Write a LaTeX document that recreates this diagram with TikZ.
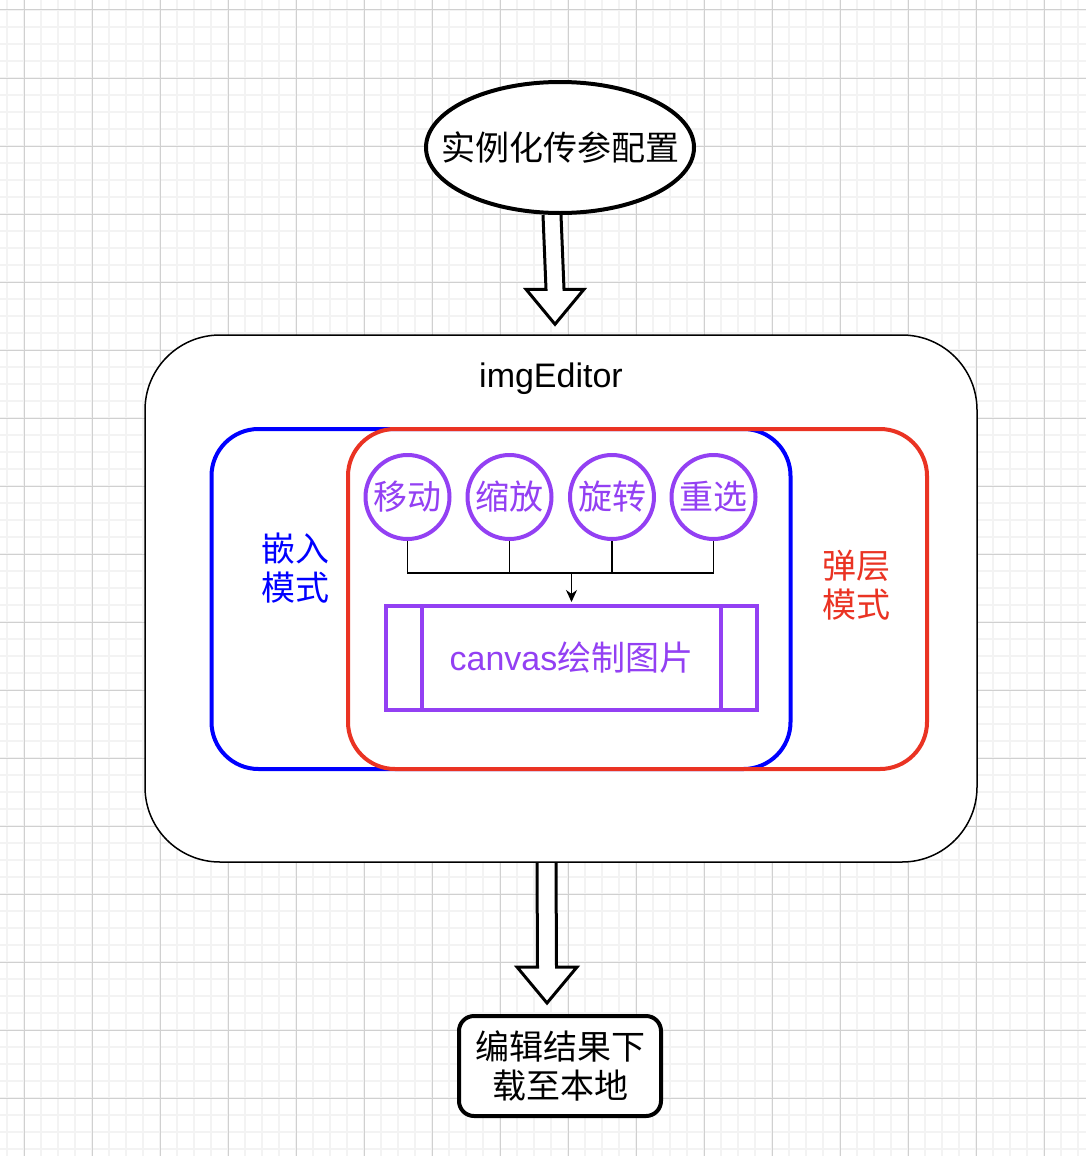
\documentclass[tikz,border=0pt]{standalone}
\usepackage{fontspec}
\setmainfont{Liberation Sans}
\newfontfamily\cjk{Noto Sans CJK SC}
\usetikzlibrary{shapes.geometric,arrows.meta,calc}
\pgfdeclarelayer{bg}
\pgfsetlayers{bg,main}

\definecolor{gridmajor}{RGB}{208,208,208}
\definecolor{gridminor}{RGB}{243,243,243}
\definecolor{modeblue}{RGB}{0,0,255}
\definecolor{modered}{RGB}{234,51,35}
\definecolor{oppurple}{RGB}{147,64,243}

\tikzset{
  txt/.style={font=\cjk\fontsize{34}{39}\selectfont,align=center,inner sep=0pt},
  startell/.style={ellipse,draw,line width=4pt,fill=white,inner sep=0pt,minimum width=268pt,minimum height=131pt},
  editorbox/.style={draw,line width=1.5pt,fill=white,rounded corners=75pt,minimum width=832pt,minimum height=527pt},
  modebox/.style={line width=4pt,rounded corners=47pt,minimum width=579pt,minimum height=340pt},
  opcircle/.style={txt,circle,draw=oppurple,text=oppurple,line width=4pt,minimum size=84pt},
  canvasbox/.style={draw=oppurple,text=oppurple,line width=4pt,minimum width=371pt,minimum height=104pt,
    font=\fontsize{34}{39}\selectfont},
  resultbox/.style={txt,draw,line width=4pt,fill=white,rounded corners=15pt,minimum width=202pt,minimum height=100pt},
  link/.style={draw=black,line width=1.5pt},
  flexarrow/.style={draw=black,fill=white,line width=3pt,line join=miter}
}

\begin{document}
\begin{tikzpicture}[x=1pt,y=-1pt]
\useasboundingbox (0,0) rectangle (1086,1156);

\begin{pgfonlayer}{bg}
\fill[white] (0,0) rectangle (1086,1156);
% grid
\foreach \x in {7,24,...,1086} \draw[gridminor,line width=2pt] (\x,0) -- (\x,1156);
\foreach \y in {10,27,...,1156} \draw[gridminor,line width=2pt] (0,\y) -- (1086,\y);
\foreach \x in {24,92,...,1086} \draw[gridmajor,line width=1pt] (\x,0) -- (\x,1156);
\foreach \y in {10,78,...,1156} \draw[gridmajor,line width=1pt] (0,\y) -- (1086,\y);
\end{pgfonlayer}

\node[startell,label={[txt]center:实例化传参配置}] (conf) at (560,147.5) {};

\node[editorbox] (editor) at (561,598.5) {};
\node[font=\fontsize{34}{39}\selectfont,inner sep=0pt] (title) at (551,379) {imgEditor};

\node[modebox,draw=modeblue] (embed) at (501,599) {};
\node[modebox,draw=modered] (popup) at (637.5,599) {};
\node[txt,text=modeblue] (embedtxt) at (295.5,568.5) {嵌入\\模式};
\node[txt,text=modered] (popuptxt) at (856.5,585.5) {弹层\\模式};

\node[opcircle] (move)     at (407.5,497) {移动};
\node[opcircle] (zoom)     at (509.5,497) {缩放};
\node[opcircle] (rotate)   at (612,497)   {旋转};
\node[opcircle] (reselect) at (713.5,497) {重选};

\node[canvasbox] (canvas) at (571.5,658) {canvas{\cjk 绘制图片}};
\draw[oppurple,line width=4pt] ([xshift=38pt]canvas.north west) -- ([xshift=38pt]canvas.south west);
\draw[oppurple,line width=4pt] ([xshift=-38pt]canvas.north east) -- ([xshift=-38pt]canvas.south east);

\coordinate (jn) at (canvas.north |- 0,573);
\foreach \n in {move,zoom,rotate,reselect} \draw[link] (\n.south) |- (jn);
\draw[link,-{Stealth[length=12pt,width=11pt]},shorten >=2pt] (jn) -- (canvas.north);

\node[resultbox] (result) at (560,1066) {编辑结果下\\载至本地};

\begin{pgfonlayer}{bg}
% arrow in
\path (conf.south) ++(-8,0) coordinate (a1) (editor.north) ++(-6,-10) coordinate (a2);
\draw[flexarrow] ($(a1)+(-9,0)$) -- ($(a2)+(-9,-35)$) -- ($(a2)+(-29,-35)$) -- (a2)
  -- ($(a2)+(29,-35)$) -- ($(a2)+(9,-35)$) -- ($(a1)+(9,0)$);
% arrow out
\path (editor.south) ++(-14.5,0) coordinate (b1) (result.north) ++(-13,-11) coordinate (b2);
\draw[flexarrow] ($(b1)+(-9.5,0)$) -- ($(b2)+(-9.5,-36)$) -- ($(b2)+(-30,-36)$) -- (b2)
  -- ($(b2)+(30,-36)$) -- ($(b2)+(9.5,-36)$) -- ($(b1)+(9.5,0)$);
\end{pgfonlayer}
\end{tikzpicture}
\end{document}
